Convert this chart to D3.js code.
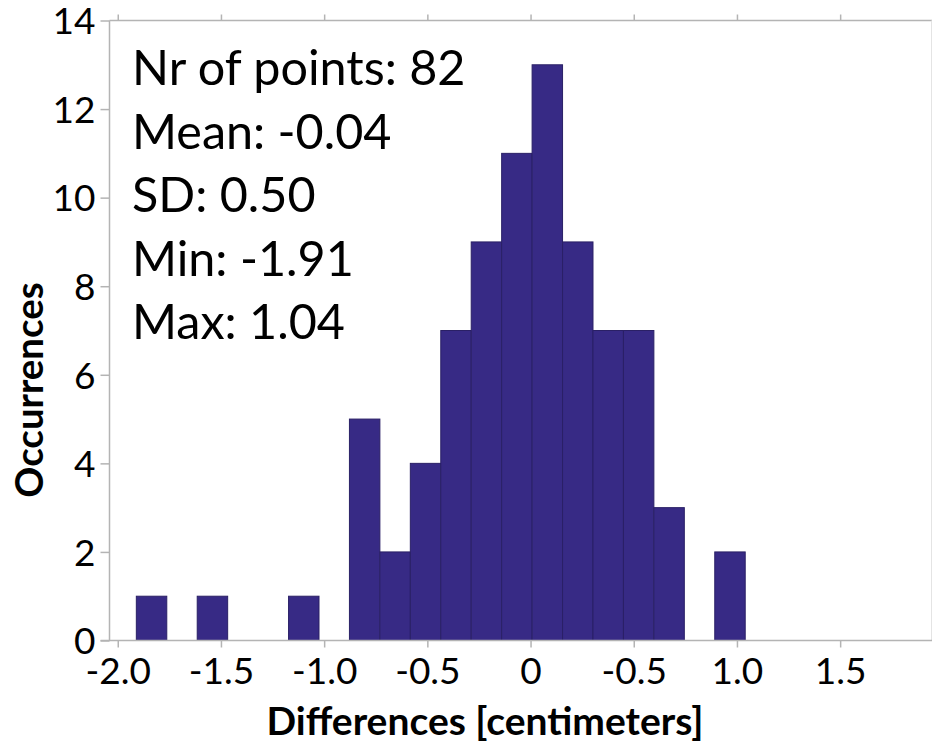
<!DOCTYPE html>
<html>
<head>
<meta charset="utf-8">
<script src="https://cdn.jsdelivr.net/npm/d3@7"></script>
<style>
  body { margin: 0; background: #fff; }
  svg { display: block; }
</style>
</head>
<body>
<svg id="chart"></svg>
<script>
// Histogram of differences, 20 bins from min to max
const binEdges = [-1.91, -1.7625, -1.615, -1.4675, -1.32, -1.1725, -1.025, -0.8775, -0.73, -0.5825,
    -0.435, -0.2875, -0.14, 0.0075, 0.155, 0.3025, 0.45, 0.5975, 0.745, 0.8925, 1.04];
const counts = [1, 0, 1, 0, 0, 1, 0, 5, 2, 4, 7, 9, 11, 13, 9, 7, 7, 3, 0, 2];

const xTicks = [-2.0, -1.5, -1.0, -0.5, 0, 0.5, 1.0, 1.5];
const xTickLabels = ["-2.0", "-1.5", "-1.0", "-0.5", "0", "-0.5", "1.0", "1.5"];
const yTicks = [0, 2, 4, 6, 8, 10, 12, 14];

const statLines = ["Nr of points: 82", "Mean: -0.04", "SD: 0.50", "Min: -1.91", "Max: 1.04"];

const width = 933;
const height = 742;
const font = "Lato, 'Liberation Sans', sans-serif";
const axisColor = "#b4b4b4";

function drawHistogram() {
    const svg = d3.select("#chart")
        .attr("width", width)
        .attr("height", height);

    const left = 109.5, right = 932, top = 20.5, bottom = 640.5;

    const x = d3.scaleLinear()
        .domain([-2.04, 1.945])
        .range([left, right]);

    const y = d3.scaleLinear()
        .domain([0, 14])
        .range([bottom, top]);

    const bins = counts.map((c, i) => ({ x0: binEdges[i], x1: binEdges[i + 1], count: c }))
        .filter(d => d.count > 0);

    // frame lines
    svg.append("line")
        .attr("x1", left).attr("x2", right).attr("y1", top).attr("y2", top)
        .style("stroke", axisColor).style("stroke-width", 1.5);
    svg.append("line")
        .attr("x1", right - 0.5).attr("x2", right - 0.5).attr("y1", top).attr("y2", bottom)
        .style("stroke", "#e4e4e4").style("stroke-width", 1);

    // bars
    svg.selectAll("rect.bar")
        .data(bins)
        .enter()
        .append("rect")
        .attr("class", "bar")
        .attr("x", d => x(d.x0))
        .attr("y", d => y(d.count))
        .attr("width", d => x(d.x1) - x(d.x0))
        .attr("height", d => y(0) - y(d.count))
        .style("fill", "#372a85")
        .style("stroke", "#2a2066")
        .style("stroke-width", 1);

    // bottom axis
    const xAxis = svg.append("g")
        .attr("transform", `translate(0,${bottom})`)
        .call(d3.axisBottom(x).tickValues(xTicks).tickSize(7).tickFormat((d, i) => xTickLabels[i]));
    xAxis.select(".domain").remove();
    xAxis.insert("line", ":first-child")
        .attr("x1", left - 9).attr("x2", right).attr("y1", 0).attr("y2", 0)
        .style("stroke", axisColor).style("stroke-width", 1.5);
    xAxis.selectAll(".tick line").style("stroke", axisColor).style("stroke-width", 1.5);
    xAxis.selectAll(".tick text")
        .attr("y", 43)
        .attr("dy", 0)
        .style("font-family", font)
        .style("font-size", "37px")
        .style("fill", "#000");

    // top ticks
    const xTop = svg.append("g")
        .attr("transform", `translate(0,${top})`)
        .call(d3.axisTop(x).tickValues(xTicks).tickSize(6).tickFormat(""));
    xTop.select(".domain").remove();
    xTop.selectAll(".tick line").style("stroke", axisColor).style("stroke-width", 1.5);

    // left axis
    const yAxis = svg.append("g")
        .attr("transform", `translate(${left},0)`)
        .call(d3.axisLeft(y).tickValues(yTicks).tickSize(9).tickPadding(5));
    yAxis.select(".domain")
        .attr("d", `M0,${top}V${bottom}`)
        .style("stroke", axisColor).style("stroke-width", 1.5);
    yAxis.selectAll(".tick line").style("stroke", axisColor).style("stroke-width", 1.5);
    yAxis.selectAll(".tick text")
        .attr("dy", "0.36em")
        .style("font-family", font)
        .style("font-size", "37px")
        .style("fill", "#000");

    // statistics box text
    svg.selectAll("text.stat")
        .data(statLines)
        .enter()
        .append("text")
        .attr("class", "stat")
        .attr("x", 132)
        .attr("y", (d, i) => 85 + i * 63.5)
        .text(d => d)
        .style("font-family", font)
        .style("font-size", "48.5px")
        .style("fill", "#000");

    // axis titles
    svg.append("text")
        .attr("x", 485)
        .attr("y", 735)
        .style("text-anchor", "middle")
        .style("font-family", font)
        .style("font-weight", "bold")
        .style("font-size", "39px")
        .text("Differences [centimeters]");

    svg.append("text")
        .attr("transform", "translate(43,390) rotate(-90)")
        .style("text-anchor", "middle")
        .style("font-family", font)
        .style("font-weight", "bold")
        .style("font-size", "38.5px")
        .text("Occurrences");
}

window.onload = drawHistogram;
</script>
</body>
</html>
